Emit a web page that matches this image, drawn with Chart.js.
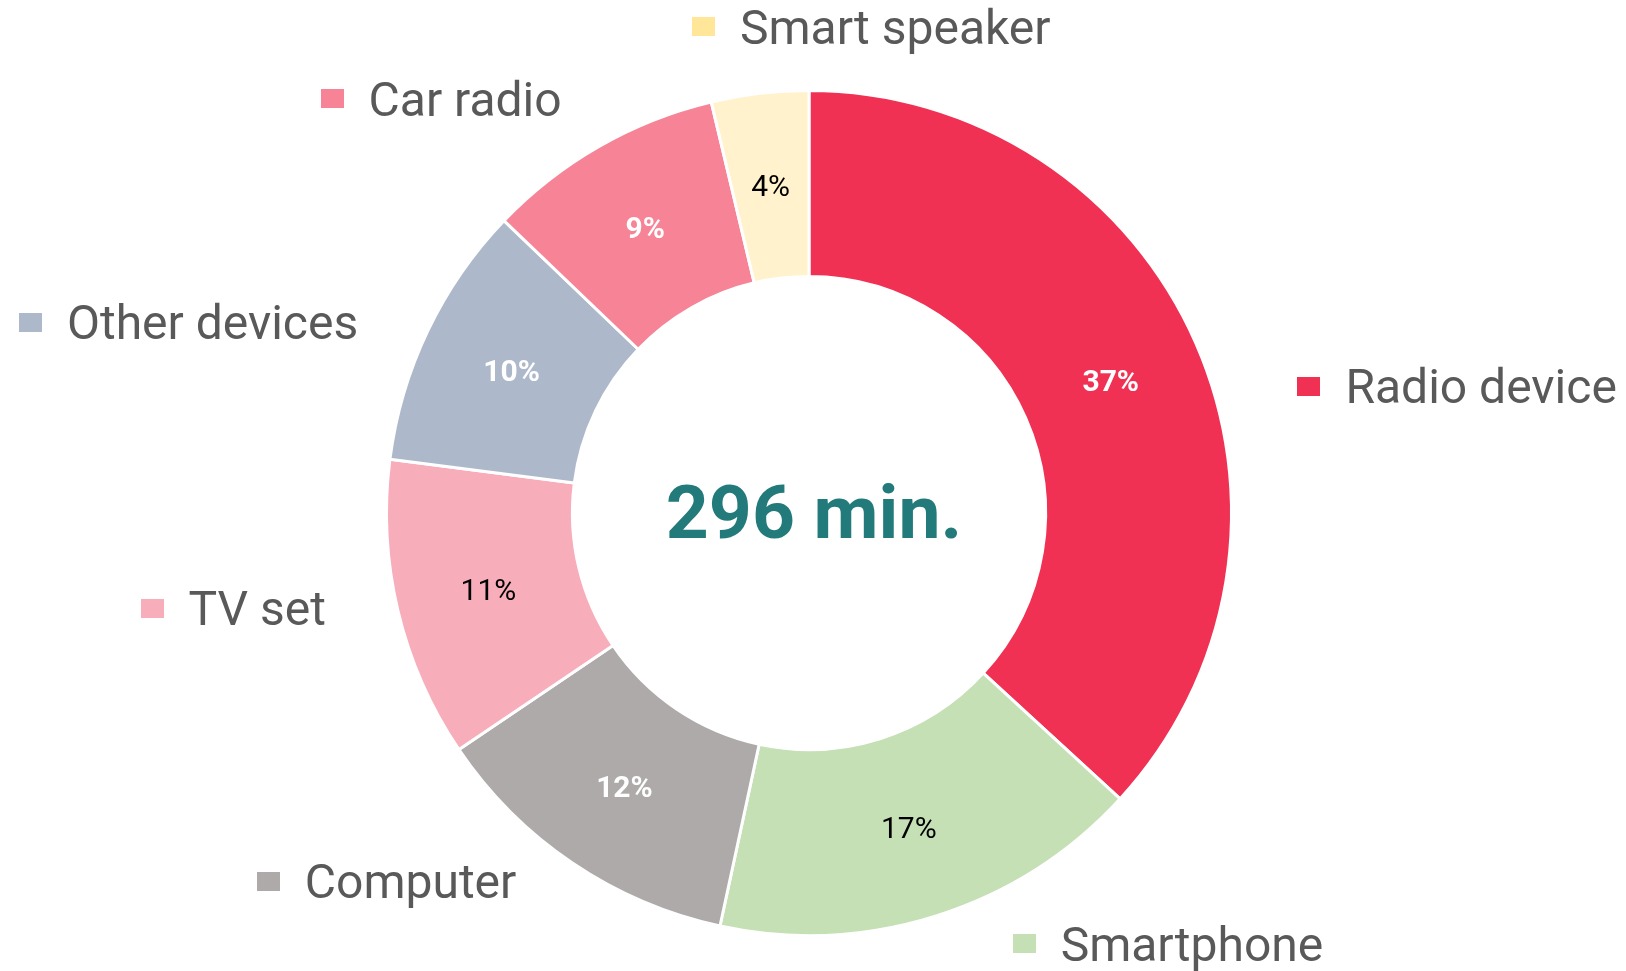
<!DOCTYPE html>
<html>
<head>
<meta charset="utf-8">
<script src="https://cdn.jsdelivr.net/npm/chart.js@4/dist/chart.umd.min.js"></script>
<style>
  html, body { margin: 0; padding: 0; background: #ffffff; }
  #wrap { width: 1626px; height: 971px; }
</style>
</head>
<body>
<div id="wrap"><canvas id="c" width="1626" height="971"></canvas></div>
<script>
// ---- data ----
const categories = ['Radio device', 'Smartphone', 'Computer', 'TV set', 'Other devices', 'Car radio', 'Smart speaker'];
const minutes = [109, 49, 36, 34, 30, 27, 11];   // estimated minutes per device (sum 296)
const centerUnit = 'min.';

// ---- styles ----
const sliceColors = ['#f03153', '#c5e0b4', '#aeaaaa', '#f8adba', '#adb9ca', '#f68496', '#fff2cc'];
const legendBoxColors = ['#f03153', '#c5e0b4', '#aeaaaa', '#f8adba', '#adb9ca', '#f68496', '#ffe699'];
const pctOnDark = [true, false, true, false, true, true, false];

// outside label placement (box-left x, text centre y) relative to centre, in outer-radius units
const labelLayout = [
  [1.156, -0.300],
  [0.482, 1.019],
  [-1.307, 0.872],
  [-1.582, 0.225],
  [-1.870, -0.452],
  [-1.156, -0.981],
  [-0.277, -1.151]
];

const labelsPlugin = {
  id: 'customLabels',
  afterDatasetsDraw(chart) {
    const ctx = chart.ctx;
    const meta = chart.getDatasetMeta(0);
    const arcs = meta.data;
    if (!arcs.length) return;
    const cx = arcs[0].x, cy = arcs[0].y;
    const R = arcs[0].outerRadius;
    const total = minutes.reduce((a, b) => a + b, 0);
    ctx.save();
    // percentage labels
    arcs.forEach((arc, i) => {
      const p = arc.getCenterPoint();
      ctx.textAlign = 'center';
      ctx.textBaseline = 'middle';
      if (pctOnDark[i]) {
        ctx.fillStyle = '#ffffff';
        ctx.font = 'bold 30px Roboto';
      } else {
        ctx.fillStyle = '#000000';
        ctx.font = '30px Roboto';
      }
      const pct = Math.round(minutes[i] / total * 100);
      ctx.fillText(pct + '%', p.x, p.y + 3);
    });
    // outside labels
    ctx.font = '48px Roboto';
    ctx.textAlign = 'left';
    ctx.textBaseline = 'middle';
    categories.forEach((name, i) => {
      const bx = cx + labelLayout[i][0] * R;
      const by = cy + labelLayout[i][1] * R;
      ctx.fillStyle = legendBoxColors[i];
      ctx.fillRect(Math.round(bx), Math.round(by - 9.5), 23, 19);
      ctx.fillStyle = '#595959';
      ctx.fillText(name, bx + 48, by + 5);
    });
    // centre text
    ctx.font = 'bold 75px Roboto';
    ctx.fillStyle = '#237a7a';
    ctx.textAlign = 'center';
    ctx.textBaseline = 'middle';
    ctx.fillText(total + ' ' + centerUnit, cx + 5, cy + 6);
    ctx.restore();
  }
};

new Chart(document.getElementById('c'), {
  type: 'doughnut',
  data: {
    labels: categories,
    datasets: [{
      data: minutes,
      backgroundColor: sliceColors,
      borderColor: '#ffffff',
      borderWidth: 3,
      hoverOffset: 0
    }]
  },
  options: {
    responsive: false,
    animation: false,
    cutout: '56%',
    layout: { padding: { top: 89, bottom: 34, left: 0, right: 8 } },
    plugins: {
      legend: { display: false },
      tooltip: { enabled: false }
    }
  },
  plugins: [labelsPlugin]
});
</script>
</body>
</html>
